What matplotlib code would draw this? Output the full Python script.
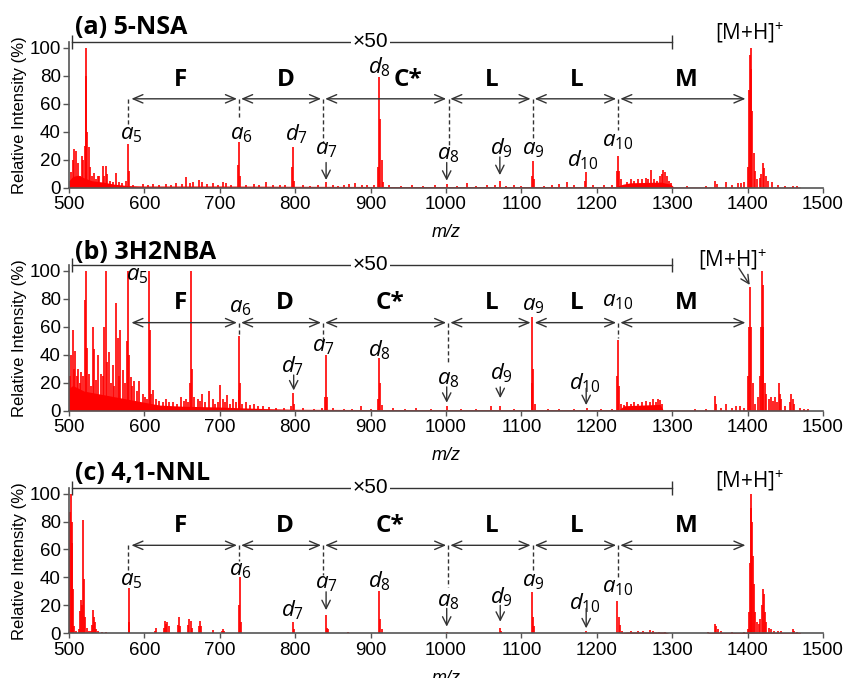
import matplotlib.pyplot as plt

plt.rcParams['font.family'] = ['Liberation Sans', 'DejaVu Sans']
plt.rcParams['mathtext.fontset'] = 'custom'
plt.rcParams['mathtext.rm'] = 'Open Sans'
plt.rcParams['mathtext.it'] = 'Open Sans:italic'

# %% DATA
titles = ['(a) 5-NSA', '(b) 3H2NBA', '(c) 4,1-NNL']
residues = ['F', 'D', 'C*', 'L', 'L', 'M']
ion_names = ['a5', 'a6', 'd7', 'a7', 'd8', 'a8', 'd9', 'a9', 'd10', 'a10']
# m/z of the cleavage sites (a5 ... a10) and the [M+H]+ end
boundaries = [580, 725.5, 837, 1003, 1115, 1228.5, 1400]
zoom_range = [504, 1300]  # x50 region

# (a) 5-NSA, stick peaks (m/z, relative intensity)
a_mz = [502.6, 505, 507, 509, 511.5, 514, 517, 519, 521, 522, 523, 524, 526, 528, 530,
        533.5, 536, 538, 540, 545.5, 547, 549, 551, 555, 558, 562, 566.7, 570, 576,
        578, 579, 585, 597.7, 605, 611, 620, 628.6, 635, 641.9, 650, 655, 660, 664,
        672.4, 677, 683, 690.5, 698, 703.8, 708, 715, 724, 725.8, 727, 735, 745, 752,
        761, 770, 780, 787, 796, 797.4, 799, 810, 820, 830, 841, 850, 857, 865, 872,
        880, 888, 895, 905, 910, 911.5, 913, 914.5, 917, 925, 940, 955, 970, 985,
        1001, 1015, 1028, 1040, 1055, 1065, 1071.5, 1080, 1090, 1100, 1114, 1115,
        1116.5, 1130, 1140, 1150, 1160, 1170, 1185, 1186.3, 1195, 1210, 1220, 1227,
        1228, 1229.5, 1232, 1240, 1245, 1250, 1255, 1260, 1265, 1268, 1272.5, 1276,
        1280, 1284, 1287, 1288, 1290, 1293, 1296, 1299, 1320, 1345, 1356.5, 1360,
        1372, 1380, 1387, 1392, 1396, 1400.5, 1402, 1403, 1404, 1405, 1406, 1408,
        1410, 1413, 1416, 1418, 1420.5, 1422, 1424, 1427, 1433, 1440, 1450, 1460, 1465]
a_int = [11.5, 20, 28, 26, 18, 8, 23, 20, 30, 80, 100, 40, 29, 15, 8,
         10.5, 6, 8, 8, 15.5, 8, 15.5, 10, 5, 4, 10.5, 4, 3, 5,
         31, 12, 2, 2.5, 2, 2.5, 2, 2.5, 2, 3, 2.5, 7.5, 3, 4,
         5.5, 4, 2.5, 3, 2, 4, 3, 2, 16, 33, 8, 2, 2.5, 2,
         4, 2, 2, 2, 15, 29, 5, 2, 1.5, 2, 4, 2, 1.5, 2, 2.5,
         3, 2, 2, 2, 15, 79, 49, 20, 4, 2, 1.5, 2, 1.5, 2,
         2.5, 1.5, 3, 1.5, 2, 2, 5, 1.5, 2, 1.5, 8, 19,
         6, 1.5, 2, 2.5, 4, 2, 5, 11, 2, 2, 2, 12,
         23, 12, 6, 4, 6, 5, 6, 6, 7, 6, 13, 6,
         5, 8, 10, 13, 11, 8, 5, 3, 1, 1.5, 4.8, 2.5,
         3.8, 2, 3, 3.5, 4, 15, 70, 95, 100, 85, 55, 25,
         12, 6, 7, 10, 17.5, 14, 8, 5, 4, 2, 1.5, 1, 1]
a_floor_mz = [500, 505, 512, 520, 530, 545, 560, 578, 600, 700, 800, 950, 1100,
              1225, 1235, 1245, 1270, 1285, 1298, 1302, 1470]
a_floor_int = [5, 8, 9, 7, 5, 4, 2.5, 1.5, 1.2, 1.2, 1, 0.8, 0.8,
               0.8, 2.5, 3.5, 3.8, 4, 2.5, 0.5, 0.4]

# (b) 3H2NBA
b_mz = [501.3, 503, 505, 506.5, 508.4, 510, 511.5, 514, 516, 519, 521.6, 523, 524, 527,
        529, 531.4, 533.5, 536, 539, 542.4, 544.6, 547, 549, 550.5, 553.4, 556, 558,
        560, 562.3, 564.5, 566, 568, 571, 574, 576.5, 578.7, 580, 582, 584, 586.6, 590,
        593, 597.7, 601, 604, 606.5, 607.8, 609, 611, 615, 620, 624, 628.6, 633, 638,
        643, 648.5, 652, 655, 658, 660.4, 662, 663.5, 666, 670.6, 674, 677, 681, 686,
        690.5, 694, 697, 700, 703.8, 707, 710, 714, 717, 721, 725, 725.8, 727, 730,
        734.7, 740, 745.7, 751, 756.8, 765, 775, 785, 795, 796.6, 798, 810, 825, 835,
        839.5, 840.7, 842, 850, 865, 875, 887, 900, 910, 911, 913, 915, 930, 945, 960,
        980, 1001, 1020, 1040, 1060, 1072, 1090, 1113.5, 1114.7, 1116, 1118, 1135,
        1150, 1170, 1187, 1205, 1220, 1227, 1228, 1229.5, 1232, 1236, 1240, 1245,
        1250, 1255, 1260, 1265, 1270, 1274, 1278, 1281, 1283.5, 1286, 1300, 1330,
        1345, 1356.5, 1358, 1365, 1372, 1380, 1385, 1389.6, 1395, 1400.6, 1402,
        1403.7, 1405, 1407, 1410, 1414, 1416, 1418, 1419, 1420, 1421, 1423, 1425,
        1428, 1431, 1434, 1436, 1439, 1442, 1443, 1445, 1450, 1456, 1458, 1460, 1462,
        1469, 1475, 1480]
b_int = [25, 40, 58, 30, 43, 25, 30, 20, 28, 25, 79, 100, 45, 26,
         18, 60, 44, 22, 40, 26, 25, 60, 100, 35, 42, 20, 33,
         18, 77, 52, 25, 57.5, 29, 20, 50, 100, 40, 24, 18, 21, 14,
         21, 12, 10, 8, 100, 57.5, 12, 15, 8, 7, 6, 8, 6, 6,
         5, 10, 7, 8, 6, 20, 100, 30, 10, 8, 7, 12, 6, 14,
         8, 5, 6, 18.6, 8, 6, 11, 5, 8, 6, 15, 53.5, 20, 5,
         6, 4, 5, 3, 3, 2.5, 2, 2, 3, 12.9, 5, 2, 1.5, 2,
         10, 40, 10, 2, 1.5, 1.5, 3, 1.5, 8, 38, 20, 4, 2, 1.5, 2,
         1.5, 3, 1.5, 1.5, 3, 3, 1.5, 20, 67, 30, 5, 1.5,
         1.5, 1, 2, 1, 1.5, 25, 50.6, 18, 5, 4, 6, 5,
         6, 5, 6, 7, 6, 8, 6, 8, 7.6, 5, 0.8, 1.5,
         1.5, 10.5, 5, 2, 5, 2, 3, 3, 2, 25, 60,
         88.8, 60, 20, 5, 10, 25, 60, 100, 90, 60, 20, 12,
         8, 10, 7, 10, 6, 19.6, 12, 8, 3, 6, 12, 8, 5,
         2, 1.5, 1]
b_floor_mz = [500, 505, 520, 540, 560, 580, 600, 620, 650, 700, 730, 760, 800, 900,
              1100, 1230, 1236, 1260, 1284, 1288, 1480]
b_floor_int = [16, 18, 14, 12, 10, 8, 6, 4, 3.2, 2.6, 2, 1.5, 1, 0.8,
               0.8, 0.8, 3.5, 4, 4.5, 0.5, 0.5]

# (c) 4,1-NNL
c_mz = [500.5, 501.3, 502.6, 503.5, 504, 505.7, 507, 509, 513, 514.6, 516.3, 517, 518,
        519.5, 521, 523.5, 526, 529, 531, 532, 533, 534, 536, 539, 544, 549, 579, 580,
        614, 615, 626, 627.7, 629, 630, 632, 644, 645.4, 647, 658, 659.5, 661.3, 663,
        672, 673.7, 675.4, 690.5, 703, 703.8, 705, 726, 726.7, 728, 797.4, 799, 840.7,
        842, 843, 870, 911.4, 913, 915, 1001, 1071.4, 1073, 1114.7, 1116, 1117, 1186.3,
        1227.4, 1229, 1231, 1234, 1245, 1255, 1262, 1270, 1275, 1283, 1290, 1348,
        1356.5, 1358, 1361, 1365, 1380, 1395, 1400, 1402, 1403, 1404.2, 1405, 1406,
        1407, 1408, 1410, 1412, 1415, 1417, 1419, 1420.5, 1421.5, 1423, 1425, 1428,
        1431, 1435, 1440, 1445, 1460.3, 1462, 1466]
c_int = [55, 87, 100, 80, 65, 32, 5, 2, 3, 16, 24, 20, 81,
         39, 12, 4, 2, 2, 6, 16.6, 12, 8, 3, 2, 1, 1, 32.6, 8,
         2, 3.6, 4, 8.8, 7, 8, 5, 6, 12, 5, 6, 10, 9, 4,
         5, 8.8, 5, 2.4, 2, 3, 1.5, 20, 40, 8, 8.3, 3, 13,
         4, 3, 1.2, 30, 10, 3, 1, 3.6, 2, 29.7, 12, 5, 2,
         23, 12, 6, 2, 1.5, 1.5, 2, 2.2, 1.5, 1.2, 1, 1,
         7, 5, 3, 1.5, 1, 1, 3, 15, 50, 90, 100, 80,
         55, 35, 15, 8, 7, 10, 20, 32, 28, 15, 8, 4,
         3, 2, 2, 1.5, 3, 2, 1]
c_floor_mz = [1229, 1240, 1290, 1296, 1345, 1350, 1470]
c_floor_int = [0, 1, 1, 0, 0, 0.6, 0.6]

# %% LAYOUT (label placement per panel, in data units)
panel_bottoms = [0.7232, 0.3943, 0.0659]
title_y = [114.5, 113, 114.5]
arrow_y = [63.6, 63, 63]
res_x = [[648.5, 787.7, 949, 1060, 1173, 1319],
         [648, 786, 925.6, 1060, 1173, 1319],
         [648, 786, 925.6, 1060, 1173, 1319]]
res_y = [77, 77, 76.6]
ion_x = [[582, 728, 802, 841.6, 912, 1003, 1073.6, 1115.6, 1182, 1228],
         [591, 727.6, 797, 837, 912, 1003, 1073.6, 1115.6, 1184, 1228],
         [582, 727.6, 797, 841.6, 912, 1003, 1073.6, 1115.6, 1184, 1228]]
ion_y = [[38, 38, 38, 27, 86, 23.5, 28.5, 27, 20, 33],
         [97, 74, 32, 46, 43, 22.5, 26.8, 75, 20, 78],
         [38, 45, 16.6, 35.7, 37, 22.6, 26, 37, 21.4, 33]]
# dashed drop lines from the arrow row: (x, lower end)
drop_lines = [[(578, 45), (725.5, 49), (837, 32), (1003.5, 30.5), (1115, 35.5), (1228.5, 41)],
              [(726, 54), (837, 50), (1003, 34), (1228, 52)],
              [(578, 45), (725.5, 52), (837, 41.6), (1003, 33), (1115, 44), (1228, 40.4)]]
# small pointer arrows to weak peaks: (x, from y, to y)
pointers = [[(841, 18, 5.5), (1001, 18, 5), (1071.5, 22, 9)],
            [(798, 25.5, 14.5), (1001, 17, 5.7), (1072, 17, 9), (1186, 16, 4)],
            [(841, 29.7, 16.6), (1001, 17.8, 4.8), (1072, 20, 8.3), (1186, 17.8, 3.6)]]
mh_pos = [(1403, 111), (1381, 108), (1403, 109.5)]

spectra = [(a_mz, a_int, a_floor_mz, a_floor_int),
           (b_mz, b_int, b_floor_mz, b_floor_int),
           (c_mz, c_int, c_floor_mz, c_floor_int)]

red = '#ff0000'
ink = '#333333'
ann_font = 'Open Sans'

fig = plt.figure(figsize=(8.48, 6.78), dpi=100)

for i, (mz, inten, fl_mz, fl_int) in enumerate(spectra):
    ax = fig.add_axes([0.0814, panel_bottoms[i], 0.889, 0.2143])

    # Spectrum
    ax.fill_between(fl_mz, 0, fl_int, color=red, lw=0, zorder=1)
    ax.vlines(mz, 0, inten, color=red, lw=1.2, zorder=1)

    # Axes styling
    ax.set_xlim(500, 1500)
    ax.set_ylim(0, 104)
    ax.set_xticks(range(500, 1501, 100))
    ax.set_yticks(range(0, 101, 20))
    for s in ['top', 'right']:
        ax.spines[s].set_visible(False)
    for s in ['left', 'bottom']:
        ax.spines[s].set_color('#555555')
        ax.spines[s].set_linewidth(1.2)
        ax.spines[s].set_zorder(3)
    ax.tick_params(axis='x', direction='out', length=3.6, width=1, color='#555555',
                   labelsize=13.5, pad=2.5)
    ax.tick_params(axis='y', direction='out', length=4.5, width=1, color='#555555',
                   labelsize=13.5, pad=1.5)
    ax.set_xlabel('m/z', style='italic', fontsize=13, labelpad=8)
    ax.set_ylabel('Relative Intensity (%)', fontsize=12, labelpad=2)

    # Panel title
    ax.text(508, title_y[i], titles[i], fontsize=18, fontweight='bold',
            family=ann_font, va='center', ha='left', clip_on=False)

    # x50 bracket
    zy = 104.3
    ax.plot(zoom_range, [zy, zy], color=ink, lw=1, marker='|', ms=10, mew=1,
            clip_on=False, zorder=4)
    ax.text(900, zy, '×50', fontsize=15, ha='center', va='center', zorder=5,
            bbox=dict(boxstyle='square,pad=0.1', fc='white', ec='none'))

    # Residue arrows and labels
    ay = arrow_y[i]
    for k in range(len(residues)):
        ax.annotate('', xy=(boundaries[k + 1], ay), xytext=(boundaries[k], ay),
                    arrowprops=dict(arrowstyle='<->,head_length=0.7,head_width=0.3',
                                    color=ink, lw=1, shrinkA=1.5, shrinkB=1.5))
        ax.text(res_x[i][k], res_y[i], residues[k], fontsize=17.5, fontweight='bold',
                family=ann_font, ha='center', va='center')

    # Dashed drop lines
    for x, y_low in drop_lines[i]:
        ax.plot([x, x], [ay, y_low], color=ink, lw=1, ls=(0, (3, 2)), zorder=2)

    # Ion labels
    for name, x, y in zip(ion_names, ion_x[i], ion_y[i]):
        ax.text(x, y, rf'${name[0]}_{{{name[1:]}}}$', fontsize=16, ha='center',
                va='center', color='black')

    # Pointers to weak peaks
    for x, y0, y1 in pointers[i]:
        ax.annotate('', xy=(x, y1), xytext=(x, y0),
                    arrowprops=dict(arrowstyle='->,head_length=0.6,head_width=0.3',
                                    color=ink, lw=1, shrinkA=0, shrinkB=0))

    # [M+H]+
    mx, my = mh_pos[i]
    ax.text(mx, my, r'[M+H]$^{+}$', fontsize=15, family=ann_font, ha='center',
            va='center', clip_on=False)
    if i == 1:
        ax.annotate('', xy=(1403, 90), xytext=(1388.6, 102),
                    arrowprops=dict(arrowstyle='->,head_length=0.6,head_width=0.3',
                                    color=ink, lw=1, shrinkA=0, shrinkB=0))

fig.savefig('out.png', dpi=100)
